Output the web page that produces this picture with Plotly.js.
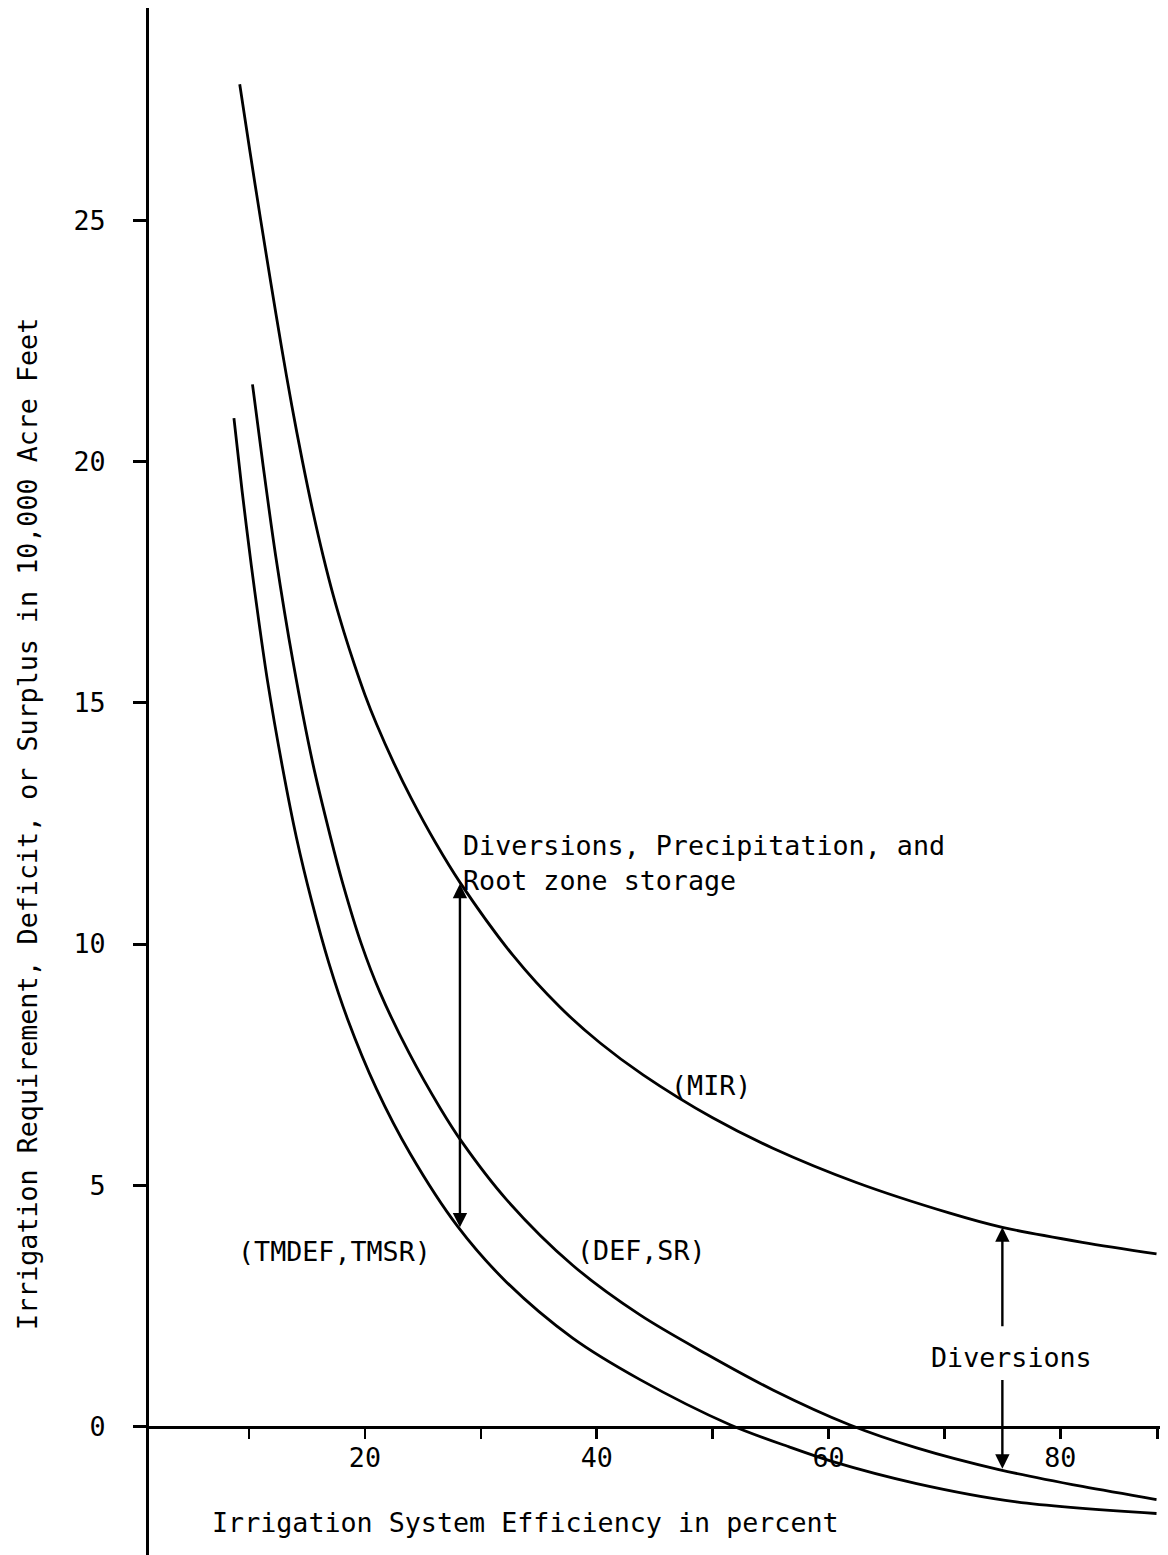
<!DOCTYPE html>
<html>
<head>
<meta charset="utf-8">
<script src="https://cdn.plot.ly/plotly-3.0.1.min.js"></script>
<style>html,body{margin:0;padding:0;background:#fff;}#chart{width:1168px;height:1555px;}</style>
</head>
<body>
<div id="chart"></div>
<script>
// Irrigation system efficiency (percent) and values in 10,000 acre feet
const mirEfficiency = [9.2, 10.1, 11.0, 11.9, 12.8, 13.7, 14.6, 15.5, 16.4, 17.3, 18.2, 19.1, 20.0, 21.0, 22.5, 24.0, 26.1, 28.2, 32.8, 36.8, 40.3, 44.0, 50.0, 55.2, 62.4, 70.4, 75.0, 81.9, 88.3];
const mirValues     = [27.82, 26.40, 25.02, 23.68, 22.38, 21.15, 20.02, 18.98, 18.04, 17.20, 16.46, 15.79, 15.17, 14.56, 13.75, 13.02, 12.10, 11.28, 9.76, 8.70, 7.95, 7.29, 6.40, 5.77, 5.06, 4.43, 4.13, 3.82, 3.58];

const defEfficiency = [10.3, 11.2, 12.3, 13.8, 15.5, 17.0, 18.1, 19.7, 21.3, 23.8, 26.5, 28.4, 32.2, 37.9, 43.7, 49.5, 55.2, 61.8, 67.6, 74.7, 81.9, 88.3];
const defValues     = [21.6, 19.95, 18.05, 15.85, 13.75, 12.25, 11.25, 10.0, 9.0, 7.75, 6.6, 5.89, 4.71, 3.35, 2.32, 1.5, 0.76, 0.04, -0.44, -0.89, -1.24, -1.51];

const tmdefEfficiency = [8.7, 9.4, 10.2, 10.9, 11.6, 12.9, 14.1, 15.4, 16.9, 18.5, 21.0, 23.9, 28.0, 32.2, 37.9, 43.7, 51.5, 56.6, 60.3, 67.6, 76.2, 88.3];
const tmdefValues     = [20.9, 19.4, 17.85, 16.6, 15.45, 13.65, 12.2, 10.9, 9.6, 8.45, 7.0, 5.66, 4.15, 3.0, 1.84, 0.98, 0.04, -0.42, -0.72, -1.18, -1.56, -1.80];

// x ticks every 10, labels at 20/40/60/80
const xTickVals = [10, 20, 30, 40, 50, 60, 70, 80, 88.4];
const xTickText = ['', '20', '', '40', '', '60', '', '80', ''];
const yTickVals = [0, 5, 10, 15, 20, 25];
const yTickText = ['0', '5', '10', '15', '20', '25'];

// arrows: efficiency, tail value, head value
const arrowEfficiency = [28.2, 75.0, 75.0];
const arrowFrom = [4.1, 2.05, 1.0];
const arrowTo = [11.25, 4.13, -0.87];
const arrowBothEnds = [true, false, false];

const FONT = 'DejaVu Sans Mono, monospace';
const FS = 26.7;
const lineStyle = {color: '#000', width: 2.8, shape: 'spline', smoothing: 0.9};

const traces = [
  {x: mirEfficiency, y: mirValues, name: 'MIR', mode: 'lines', line: lineStyle},
  {x: defEfficiency, y: defValues, name: 'DEF,SR', mode: 'lines', line: lineStyle},
  {x: tmdefEfficiency, y: tmdefValues, name: 'TMDEF,TMSR', mode: 'lines', line: lineStyle}
];

const yMin = -2.66, yMax = 29.4;
const annotations = [];
for (let i = 0; i < arrowEfficiency.length; i++) {
  annotations.push({
    x: arrowEfficiency[i], y: arrowTo[i], xref: 'x', yref: 'y',
    ax: arrowEfficiency[i], ay: arrowFrom[i], axref: 'x', ayref: 'y',
    text: '', showarrow: true, arrowhead: 2, startarrowhead: 2,
    arrowside: arrowBothEnds[i] ? 'end+start' : 'end',
    arrowsize: 1.2, startarrowsize: 1.2, arrowwidth: 2.4, arrowcolor: '#000',
    standoff: 0, startstandoff: 0
  });
}
const textFont = {family: FONT, size: FS, color: '#000'};
annotations.push(
  {x: 28.3, y: 11.68, xref: 'x', yref: 'y', xanchor: 'left', yanchor: 'middle', align: 'left',
   text: 'Diversions, Precipitation, and<br>Root zone storage', showarrow: false, font: textFont},
  {x: 49.9, y: 7.08, xref: 'x', yref: 'y', text: '(MIR)', showarrow: false, font: textFont},
  {x: 17.4, y: 3.62, xref: 'x', yref: 'y', text: '(TMDEF,TMSR)', showarrow: false, font: textFont},
  {x: 43.9, y: 3.66, xref: 'x', yref: 'y', text: '(DEF,SR)', showarrow: false, font: textFont},
  {x: 75.8, y: 1.44, xref: 'x', yref: 'y', text: 'Diversions', showarrow: false, font: textFont},
  {x: 6.64, y: -1.98, xref: 'x', yref: 'y', xanchor: 'left', yanchor: 'middle',
   text: 'Irrigation System Efficiency in percent', showarrow: false, font: textFont},
  {x: -0.1185, y: 0.4725, xref: 'paper', yref: 'paper', xanchor: 'center', yanchor: 'middle', textangle: -90,
   text: 'Irrigation Requirement, Deficit, or Surplus in 10,000 Acre Feet', showarrow: false, font: textFont}
);

const layout = {
  width: 1168, height: 1555,
  margin: {l: 147, r: 8, t: 8, b: 0, pad: 0},
  paper_bgcolor: '#fff', plot_bgcolor: '#fff',
  showlegend: false,
  font: {family: FONT, size: FS, color: '#000'},
  xaxis: {
    range: [1.2, 88.6], anchor: 'free', position: (0 - yMin) / (yMax - yMin),
    showline: true, linewidth: 3, linecolor: '#000',
    ticks: 'outside', ticklen: 10, tickwidth: 2.5, tickcolor: '#000',
    tickmode: 'array', tickvals: xTickVals, ticktext: xTickText,
    tickfont: {family: FONT, size: FS, color: '#000'},
    ticklabelstandoff: -4,
    showgrid: false, zeroline: false, fixedrange: true
  },
  yaxis: {
    range: [yMin, yMax], anchor: 'free', position: 0,
    showline: true, linewidth: 3, linecolor: '#000',
    ticks: 'outside', ticklen: 13, tickwidth: 3, tickcolor: '#000',
    tickmode: 'array', tickvals: yTickVals, ticktext: yTickText,
    tickfont: {family: FONT, size: FS, color: '#000'},
    ticklabelstandoff: 22,
    showgrid: false, zeroline: false, fixedrange: true
  },
  annotations: annotations
};

Plotly.newPlot('chart', traces, layout, {staticPlot: true, displayModeBar: false});
</script>
</body>
</html>
